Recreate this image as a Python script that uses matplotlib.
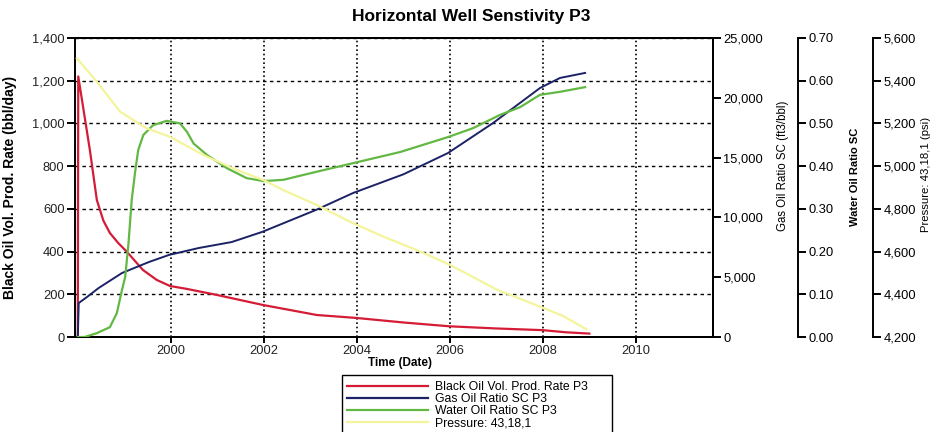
import matplotlib
matplotlib.use("Agg")
import matplotlib.pyplot as plt
from matplotlib.patches import Rectangle
from matplotlib.ticker import FuncFormatter, MultipleLocator

plt.rcParams["font.family"] = ["Liberation Sans", "DejaVu Sans"]

# ---- series (time in decimal years) ----
oil_years = [1998.0, 1998.01, 1998.09, 1998.26, 1998.41, 1998.55, 1998.69, 1998.87,
             1999.06, 1999.40, 1999.70, 1999.98, 2000.35, 2000.99, 2001.98, 2003.14,
             2004.0, 2005.0, 2006.0, 2007.0, 2008.0, 2008.5, 2009.0]
oil_rate = [0, 1220, 1110, 875, 641, 545, 487, 440,
            398, 314, 267, 239, 225, 197, 150, 103,
            89, 68, 50, 40, 32, 22, 16]

gor_years = [1998.0, 1998.02, 1998.2, 1998.45, 1998.95, 1999.53, 1999.96, 2000.6,
             2001.31, 2001.96, 2003.12, 2003.92, 2005.0, 2005.96, 2006.93, 2007.94,
             2008.37, 2008.91]
gor = [0, 2840, 3350, 4100, 5350, 6270, 6860, 7440,
       7940, 8780, 10620, 12040, 13600, 15380, 17890, 20820,
       21660, 22080]

wor_years = [1998.0, 1998.15, 1998.41, 1998.69, 1998.84, 1998.95, 1999.02, 1999.09,
             1999.16, 1999.23, 1999.30, 1999.41, 1999.62, 1999.91, 2000.20, 2000.35,
             2000.49, 2000.78, 2001.21, 2001.63, 2001.99, 2002.42, 2003.14, 2003.92,
             2004.93, 2005.96, 2006.5, 2007.08, 2007.51, 2007.94, 2008.37, 2008.91]
wor = [0.0, 0.0, 0.009, 0.023, 0.056, 0.11, 0.141, 0.219,
       0.321, 0.384, 0.438, 0.473, 0.496, 0.506, 0.50, 0.48,
       0.453, 0.426, 0.395, 0.372, 0.365, 0.368, 0.387, 0.407,
       0.433, 0.468, 0.489, 0.52, 0.538, 0.567, 0.574, 0.585]

p_years = [1997.98, 1998.41, 1998.91, 1999.48, 1999.98, 2000.70, 2001.42, 2001.99,
           2002.42, 2003.14, 2003.85, 2004.57, 2005.29, 2005.93, 2006.29, 2007.0,
           2007.94, 2008.44, 2008.94]
pressure = [5505, 5395, 5255, 5177, 5138, 5052, 4982, 4935,
            4888, 4818, 4740, 4670, 4607, 4545, 4505, 4423,
            4342, 4298, 4236]

x_ticks = [2000, 2002, 2004, 2006, 2008, 2010]

labels = ["Black Oil Vol. Prod. Rate P3", "Gas Oil Ratio SC P3",
          "Water Oil Ratio SC P3", "Pressure: 43,18,1"]
colors = ["#d41c36", "#1b2266", "#62b843", "#f4f49c"]

# ---- figure layout ----
W, H = 935, 432
fig = plt.figure(figsize=(W / 100, H / 100), dpi=100)
x0, x1, y0, y1 = 75, 713, 38, 337
ax = fig.add_axes([x0 / W, 1 - y1 / H, (x1 - x0) / W, (y1 - y0) / H])
ax_gor = ax.twinx()
ax_wor = ax.twinx()
ax_p = ax.twinx()

span = x1 - x0
ax_wor.spines["right"].set_position(("axes", (798 - x0) / span))
ax_p.spines["right"].set_position(("axes", (873 - x0) / span))

# ---- curves ----
ax_p.plot(p_years, pressure, color=colors[3], lw=1.6, zorder=2)
ax.plot(oil_years, oil_rate, color=colors[0], lw=1.6, zorder=3)
ax_gor.plot(gor_years, gor, color=colors[1], lw=1.4, zorder=3)
ax_wor.plot(wor_years, wor, color=colors[2], lw=1.6, zorder=3)

# ---- axes ranges ----
ax.set_xlim(1997.94, 2011.66)
ax.set_ylim(0, 1400)
ax_gor.set_ylim(0, 25000)
ax_wor.set_ylim(0, 0.70)
ax_p.set_ylim(4200, 5600)

ax.set_xticks(x_ticks)
ax.set_xticklabels([str(t) for t in x_ticks])
ax.yaxis.set_major_locator(MultipleLocator(200))
ax_gor.yaxis.set_major_locator(MultipleLocator(5000))
ax_wor.yaxis.set_major_locator(MultipleLocator(0.1))
ax_p.yaxis.set_major_locator(MultipleLocator(200))

comma = FuncFormatter(lambda v, _: f"{v:,.0f}")
ax.yaxis.set_major_formatter(comma)
ax_gor.yaxis.set_major_formatter(comma)
ax_p.yaxis.set_major_formatter(comma)
ax_wor.yaxis.set_major_formatter(FuncFormatter(lambda v, _: f"{v:.2f}"))

# ---- grid ----
ax.grid(axis="y", color="black", lw=1.0, linestyle=(0, (2.5, 2.5)))
ax.grid(axis="x", color="black", lw=1.2, linestyle=(0, (1, 1.6)))
ax.set_axisbelow(True)

# ---- spines and ticks ----
for a in (ax, ax_gor, ax_wor, ax_p):
    for s in a.spines.values():
        s.set_linewidth(1.4)
        s.set_color("black")
for a in (ax_wor, ax_p):
    a.spines["top"].set_visible(False)
    a.spines["bottom"].set_visible(False)
    a.spines["left"].set_visible(False)
ax_gor.spines["left"].set_visible(False)

tick_kw = dict(direction="out", length=6, width=1.4, labelsize=9.3,
               colors="black", pad=1.5)
ax.tick_params(axis="y", **tick_kw)
ax.tick_params(axis="x", direction="out", length=4, width=1.4,
               labelsize=9.3, pad=1.5)
for a in (ax_gor, ax_wor, ax_p):
    a.tick_params(axis="y", **tick_kw)

for t in ax.get_yticklabels() + ax.get_xticklabels():
    t.set_color("#222222")

# ---- axis titles ----
ax.set_ylabel("Black Oil Vol. Prod. Rate (bbl/day)", fontsize=10,
              fontweight="bold")
ax.yaxis.set_label_coords((17 - x0) / span, 0.5)
ax.set_xlabel("Time (Date)", fontsize=8.5, fontweight="bold")
ax.xaxis.set_label_coords((400 - x0) / span, -(357 - y1) / (y1 - y0))

ax_gor.set_ylabel("Gas Oil Ratio SC (ft3/bbl)", fontsize=8.3)
ax_gor.yaxis.set_label_coords((777 - x0) / span, (y1 - 166) / (y1 - y0))
ax_wor.set_ylabel("Water Oil Ratio SC", fontsize=8, fontweight="bold")
ax_wor.yaxis.set_label_coords((850 - x0) / span, (y1 - 177) / (y1 - y0))
ax_p.set_ylabel("Pressure: 43,18,1 (psi)", fontsize=8.2)
ax_p.yaxis.set_label_coords((921 - x0) / span, (y1 - 174) / (y1 - y0))

fig.text(471 / W, 1 - 17 / H, "Horizontal Well Senstivity P3",
         ha="center", va="center", fontsize=12.5, fontweight="bold")

# ---- legend (box drawn separately to get the wide right margin) ----
fig.patches.append(Rectangle((342 / W, -0.01), (612 - 342) / W,
                             (0.01 + 1 - 375 / H), transform=fig.transFigure,
                             facecolor="white", edgecolor="black", lw=1.0,
                             zorder=4))
handles = [plt.Line2D([], [], color=c, lw=1.6) for c in colors]
leg = fig.legend(handles, labels, loc="upper left",
                 bbox_to_anchor=(343 / W, 1 - 377 / H),
                 frameon=False, fontsize=8.8, handlelength=6.6,
                 handletextpad=0.55, labelspacing=0.0, borderpad=0.35,
                 borderaxespad=0)
leg.set_zorder(5)

fig.savefig("out.png", dpi=100)
